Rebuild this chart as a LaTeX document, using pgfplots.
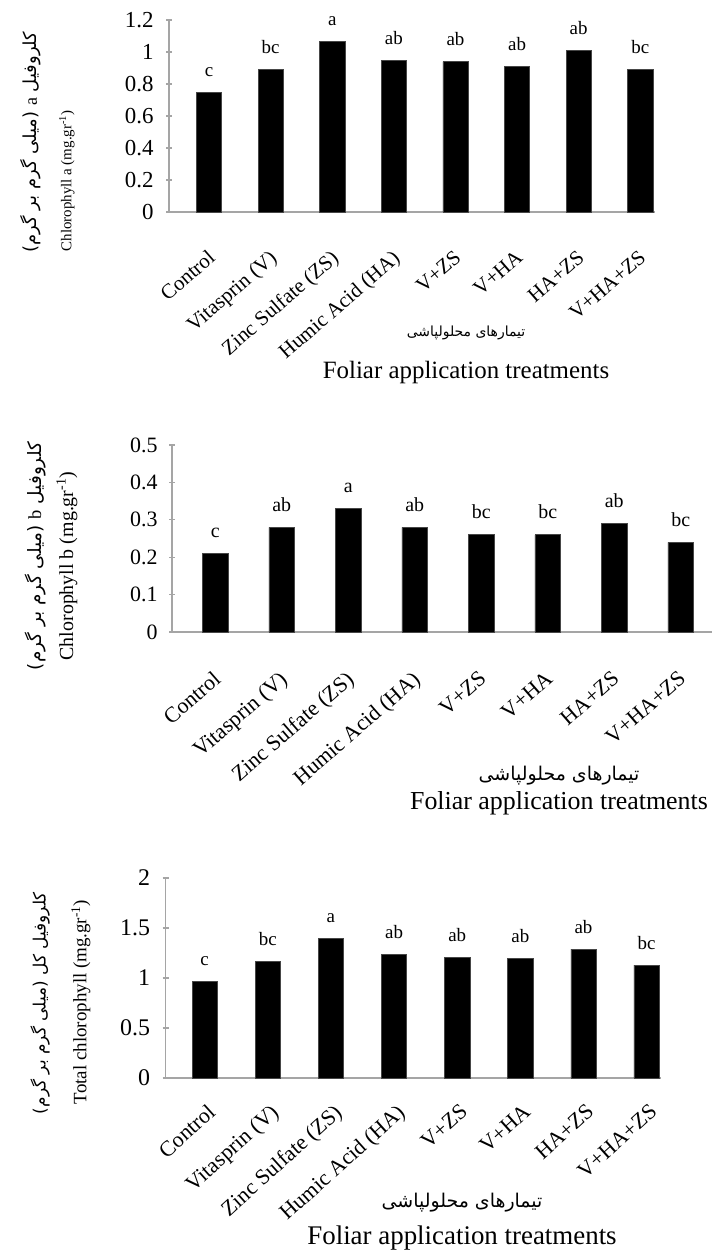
\documentclass[border=0pt]{standalone}
\usepackage{pgfplots}
\pgfplotsset{compat=1.18}
\usepackage{fontspec}
\setmainfont{Liberation Serif}
\newfontfamily\fa[Script=Arabic]{DejaVu Sans}
\TeXXeTstate=1
\definecolor{axgray}{RGB}{165,165,165}
\definecolor{baredge}{RGB}{70,70,70}
\newcommand{\fs}[1]{\fontsize{#1}{#1}\selectfont}
\pgfplotsset{
  panel/.style={
    scale only axis,
    axis x line=bottom, axis y line=left,
    axis line style={axgray, line width=1.3bp, -},
    ybar, ymin=0,
    xtick={0,...,7},
    xticklabels={Control, Vitasprin (V), Zinc Sulfate (ZS), Humic Acid (HA), V+ZS, V+HA, HA+ZS, V+HA+ZS},
    x tick style={draw=none},
    y tick style={axgray, line width=1.1bp},
    major tick length=6bp,
    ytick pos=left,
    /pgf/number format/assume math mode=true,
    /pgf/number format/fixed,
    point meta=explicit symbolic,
    nodes near coords,
    every node near coord/.append style={anchor=south, yshift=12bp, text=black},
    clip=false,
  },
  bars/.style={fill=black, draw=baredge, line width=0.6bp},
}
\begin{document}
\begin{tikzpicture}
\useasboundingbox (0,0) rectangle (712bp,-1253bp);
\fill[white] (0,0) rectangle (712bp,-1253bp);

% ---------- Panel 1 ----------
\begin{axis}[panel,
  at={(169bp,-212bp)}, anchor=south west,
  width=486bp, height=192bp,
  xmin=-0.65, xmax=7.24, ymax=1.2,
  ytick={0,0.2,0.4,0.6,0.8,1,1.2},
  bar width=0.41,
  yticklabel style={font=\fs{23}, xshift=-9bp},
  xticklabel style={font=\fs{21}, xshift=-2bp, yshift=-26bp, rotate=41, anchor=north east},
  nodes near coords style={font=\fs{19}},
]
\addplot[bars] coordinates {(0,0.75)[c] (1,0.89)[bc] (2,1.065)[a] (3,0.95)[ab] (4,0.94)[ab] (5,0.91)[ab] (6,1.01)[ab] (7,0.89)[bc]};
\end{axis}
\node[rotate=90] at (31bp,-142bp) {\fs{18}\fa\beginR کلروفیل {\rmfamily a} (میلی گرم بر گرم)\endR};
\node[rotate=90] at (67bp,-181bp) {\fs{15}Chlorophyll a (mg.gr\textsuperscript{-1})};
\node at (466bp,-333bp) {\fs{14}\fa\beginR تیمارهای محلولپاشی\endR};
\node at (466bp,-373bp) {\fs{25}Foliar application treatments};

% ---------- Panel 2 ----------
\begin{axis}[panel,
  at={(172bp,-632bp)}, anchor=south west,
  width=540bp, height=187bp,
  xmin=-0.65, xmax=7.47, ymax=0.5,
  ytick={0,0.1,0.2,0.3,0.4,0.5},
  bar width=0.385,
  yticklabel style={font=\fs{22}, xshift=-8bp},
  xticklabel style={font=\fs{22}, xshift=-3bp, yshift=-27bp, rotate=41, anchor=north east},
  nodes near coords style={font=\fs{20}},
]
\addplot[bars] coordinates {(0,0.21)[c] (1,0.28)[ab] (2,0.33)[a] (3,0.28)[ab] (4,0.26)[bc] (5,0.26)[bc] (6,0.29)[ab] (7,0.24)[bc]};
\end{axis}
\node[rotate=90] at (35bp,-556bp) {\fs{18.5}\fa\beginR کلروفیل {\rmfamily b} (میلی گرم بر گرم)\endR};
\node[rotate=90] at (67bp,-566bp) {\fs{20}Chlorophyll b (mg.gr\textsuperscript{-1})};
\node at (559bp,-776bp) {\fs{19}\fa\beginR تیمارهای محلولپاشی\endR};
\node at (559bp,-803bp) {\fs{26}Foliar application treatments};

% ---------- Panel 3 ----------
\begin{axis}[panel,
  at={(165.5bp,-1078bp)}, anchor=south west,
  width=495bp, height=200bp,
  xmin=-0.62, xmax=7.22, ymax=2,
  ytick={0,0.5,1,1.5,2},
  bar width=0.40,
  yticklabel style={font=\fs{24}, xshift=-9bp},
  xticklabel style={font=\fs{22}, xshift=2bp, yshift=-14bp, rotate=42, anchor=north east},
  nodes near coords style={font=\fs{19}},
]
\addplot[bars] coordinates {(0,0.97)[c] (1,1.17)[bc] (2,1.40)[a] (3,1.24)[ab] (4,1.21)[ab] (5,1.20)[ab] (6,1.29)[ab] (7,1.13)[bc]};
\end{axis}
\node[rotate=90] at (40bp,-1003bp) {\fs{17}\fa\beginR کلروفیل کل (میلی گرم بر گرم)\endR};
\node[rotate=90] at (81bp,-1002bp) {\fs{19}Total chlorophyll (mg.gr\textsuperscript{-1})};
\node at (462bp,-1203bp) {\fs{19}\fa\beginR تیمارهای محلولپاشی\endR};
\node at (462bp,-1238bp) {\fs{27}Foliar application treatments};
\end{tikzpicture}
\end{document}
